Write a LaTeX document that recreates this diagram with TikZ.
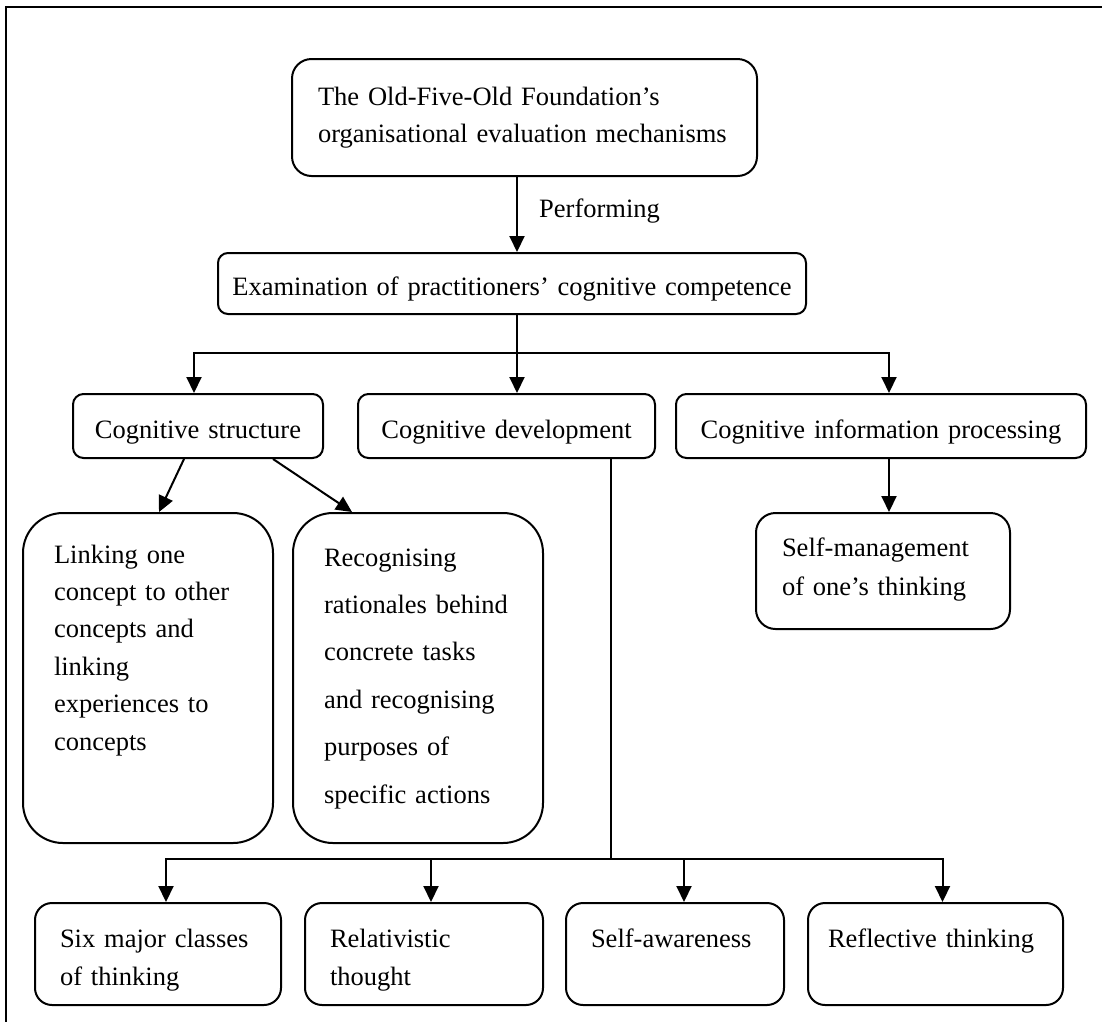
\documentclass[tikz,border=0pt]{standalone}
\usepackage{fontspec}
\setmainfont{Liberation Serif}
\usetikzlibrary{arrows.meta}
\tikzset{
  box/.style     = {draw, line width=2pt, anchor=north west, inner sep=0pt,
                    align=left, font=\fontsize{26.5}{37}\selectfont},
  headbox/.style = {box, align=center, rounded corners=10.5pt,
                    text height=44pt, text depth=20pt},
  lowbox/.style  = {box, rounded corners=17pt, text height=44pt, text depth=58pt,
                    font=\fontsize{26.5}{38}\selectfont},
  link/.style    = {line width=2pt},
  arr/.style     = {link, -{Triangle[length=16pt, width=15pt]}},
}

\begin{document}
\begin{tikzpicture}[x=1pt, y=-1pt]
  \useasboundingbox (0,0) rectangle (1102,1021);

  % ---------- frame -------------------------------------------------
  \draw[line width=2pt] (6,1030) -- (6,7) -- (1110,7);

  % ---------- top of the chain --------------------------------------
  \node[box, rounded corners=19.5pt, minimum width=465pt, text width=413pt,
        text height=46pt, text depth=71pt] (fdn) at (291,58)
    {The Old-Five-Old Foundation’s\\organisational evaluation mechanisms};
  \node[headbox, rounded corners=10pt, minimum width=588pt, text width=588pt,
        text height=42pt, text depth=19pt] (exam) at (217,252)
    {Examination of practitioners’ cognitive competence};
  \node[anchor=base west, inner sep=0pt, font=\fontsize{26.5}{37}\selectfont]
    (perf) at (539,217) {Performing};

  % ---------- three aspects -----------------------------------------
  \node[headbox, minimum width=250pt, text width=250pt] (cs)  at (72,393)  {Cognitive structure};
  \node[headbox, minimum width=297pt, text width=297pt] (cd)  at (357,393) {Cognitive development};
  \node[headbox, minimum width=410pt, text width=410pt] (cip) at (675,393) {Cognitive information processing};

  % ---------- second level ------------------------------------------
  \node[box, rounded corners=40pt, minimum width=250pt, text width=188pt,
        text height=50pt, text depth=280pt, font=\fontsize{26.5}{37.4}\selectfont] (link) at (22,512)
    {Linking one\\concept to other\\concepts and\\linking\\experiences to\\concepts};
  \node[box, rounded corners=40pt, minimum width=250pt, text width=188pt,
        text height=53pt, text depth=277pt, font=\fontsize{26.5}{47.4}\selectfont] (rec) at (292,512)
    {Recognising\\rationales behind\\concrete tasks\\and recognising\\purposes of\\specific actions};
  \node[box, rounded corners=19.5pt, minimum width=254pt, text width=202pt,
        text height=43pt, text depth=73pt, font=\fontsize{26.5}{39}\selectfont] (sm) at (755,512)
    {Self-management\\of one’s thinking};

  % ---------- bottom row --------------------------------------------
  \node[lowbox, minimum width=246pt, text width=196pt] (six)  at (34,902)  {Six major classes\\of thinking};
  \node[lowbox, minimum width=238pt, text width=188pt] (rel)  at (304,902) {Relativistic\\thought};
  \node[lowbox, minimum width=218pt, text width=168pt] (self) at (565,902) {Self-awareness};
  \node[lowbox, minimum width=255pt, text width=215pt] (ref)  at (807,902) {Reflective thinking};

  % ---------- connectors --------------------------------------------
  \coordinate (busA) at (517,353);
  \coordinate (busB) at (611,859);
  \coordinate (in-cs)   at ([xshift=-4pt]cs.north);
  \coordinate (in-cip)  at ([xshift=8pt]cip.north);
  \coordinate (in-six)  at ([xshift=8pt]six.north);
  \coordinate (in-rel)  at ([xshift=7pt]rel.north);
  \coordinate (in-self) at ([xshift=9pt]self.north);
  \coordinate (in-ref)  at ([xshift=7pt]ref.north);

  \draw[arr] (busA |- fdn.south) -- (busA |- exam.north);
  \draw[link] (busA |- exam.south) -- (busA);
  \draw[arr] (busA) -- (busA |- cd.north);
  \draw[arr] (busA) -| (in-cs);
  \draw[arr] (busA) -| (in-cip);

  \draw[arr] ([xshift=-14pt]cs.south) -- ([xshift=11pt]link.north);
  \draw[arr] ([xshift=75pt]cs.south) -- ([xshift=-66pt]rec.north);
  \draw[arr] (in-cip |- cip.south) -- (in-cip |- sm.north);

  \draw[line width=1.3pt] (busB |- cd.south) -- (busB);
  \draw[arr] (busB) -| (in-six);
  \draw[arr] (busB) -| (in-ref);
  \foreach \bx in {rel,self}
    {\draw[arr] (in-\bx |- busB) -- (in-\bx);}

\end{tikzpicture}
\end{document}
